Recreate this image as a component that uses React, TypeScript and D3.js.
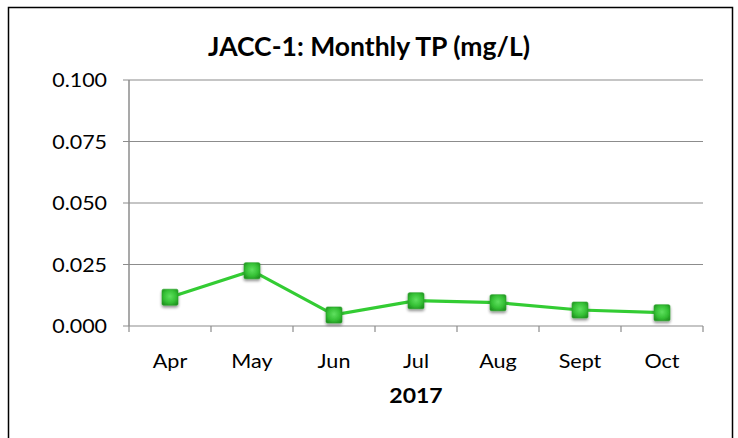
import React from "react";
import * as d3 from "d3";

const categories = ["Apr", "May", "Jun", "Jul", "Aug", "Sept", "Oct"];
const values = [0.0117, 0.0225, 0.0045, 0.0103, 0.0095, 0.0065, 0.0054];
const yTicks = [0, 0.025, 0.05, 0.075, 0.1];
const title = "JACC-1: Monthly TP (mg/L)";
const xTitle = "2017";

const font = "Lato, 'Open Sans', sans-serif";

function T(props: {
  x: number; y: number; sx?: number; size: number; bold?: boolean;
  anchor?: "start" | "middle" | "end"; dy?: string; children: React.ReactNode;
}) {
  const { x, y, sx = 1, size, bold, anchor = "middle", dy, children } = props;
  return (
    <g transform={`translate(${x},${y}) scale(${sx},1)`}>
      <text textAnchor={anchor} dy={dy} fontFamily={font} fontSize={size} fontWeight={bold ? "bold" : "normal"} fill="#000">
        {children}
      </text>
    </g>
  );
}

export default function App() {
  const W = 738, H = 438;
  const left = 129, right = 703, top = 80, bottom = 326;
  const x = d3.scaleBand<string>().domain(categories).range([left, right]);
  const y = d3.scaleLinear().domain([0, 0.1]).range([bottom, top]);
  const line = d3
    .line<number>()
    .x((_, i) => (x(categories[i]) as number) + x.bandwidth() / 2)
    .y((d) => y(d));
  const grid = "#8c8c8c";
  return (
    <svg width={W} height={H} style={{ position: "absolute", left: 0, top: 0 }}>
      <defs>
        <radialGradient id="mk" cx="50%" cy="45%" r="65%">
          <stop offset="0%" stopColor="#5fe05f" />
          <stop offset="60%" stopColor="#35c035" />
          <stop offset="100%" stopColor="#1f8f1f" />
        </radialGradient>
        <filter id="sh" x="-50%" y="-50%" width="200%" height="200%">
          <feGaussianBlur in="SourceAlpha" stdDeviation="1.5" />
          <feOffset dx="0" dy="2" result="b" />
          <feComponentTransfer><feFuncA type="linear" slope="0.45" /></feComponentTransfer>
          <feMerge><feMergeNode /><feMergeNode in="SourceGraphic" /></feMerge>
        </filter>
      </defs>
      <rect x={0} y={0} width={W} height={H} fill="#fff" />
      <rect x={8.5} y={7.5} width={724} height={440} fill="#fff" stroke="#000" strokeWidth={1.5} />
      <T x={369} y={56} size={26} sx={1.02} bold>{title}</T>
      {yTicks.map((t) => (
        <g key={t}>
          <line x1={left - 6} x2={right} y1={y(t)} y2={y(t)} stroke={grid} strokeWidth={1.2} />
          <T x={107} y={y(t)} dy="0.36em" anchor="end" size={19.5} sx={1.1}>{t.toFixed(3)}</T>
        </g>
      ))}
      <line x1={left} x2={left} y1={top} y2={bottom} stroke={grid} strokeWidth={1.5} />
      {categories.map((c) => (
        <line key={"t" + c} x1={x(c) as number} x2={x(c) as number} y1={bottom} y2={bottom + 6} stroke={grid} strokeWidth={1.2} />
      ))}
      <line x1={right} x2={right} y1={bottom} y2={bottom + 6} stroke={grid} strokeWidth={1.2} />
      {categories.map((c) => (
        <T key={c} x={(x(c) as number) + x.bandwidth() / 2} y={368} size={20} sx={1.08}>{c}</T>
      ))}
      <T x={(left + right) / 2} y={403} size={20} sx={1.15} bold>{xTitle}</T>
      <path d={line(values) || ""} fill="none" stroke="#33cc33" strokeWidth={3.2} />
      {values.map((v, i) => {
        const cx = (x(categories[i]) as number) + x.bandwidth() / 2;
        return (
          <rect key={i} x={cx - 8} y={y(v) - 8} width={16} height={16} rx={1.5} fill="url(#mk)" stroke="#2aa52a" strokeWidth={0.6} filter="url(#sh)" />
        );
      })}
    </svg>
  );
}
